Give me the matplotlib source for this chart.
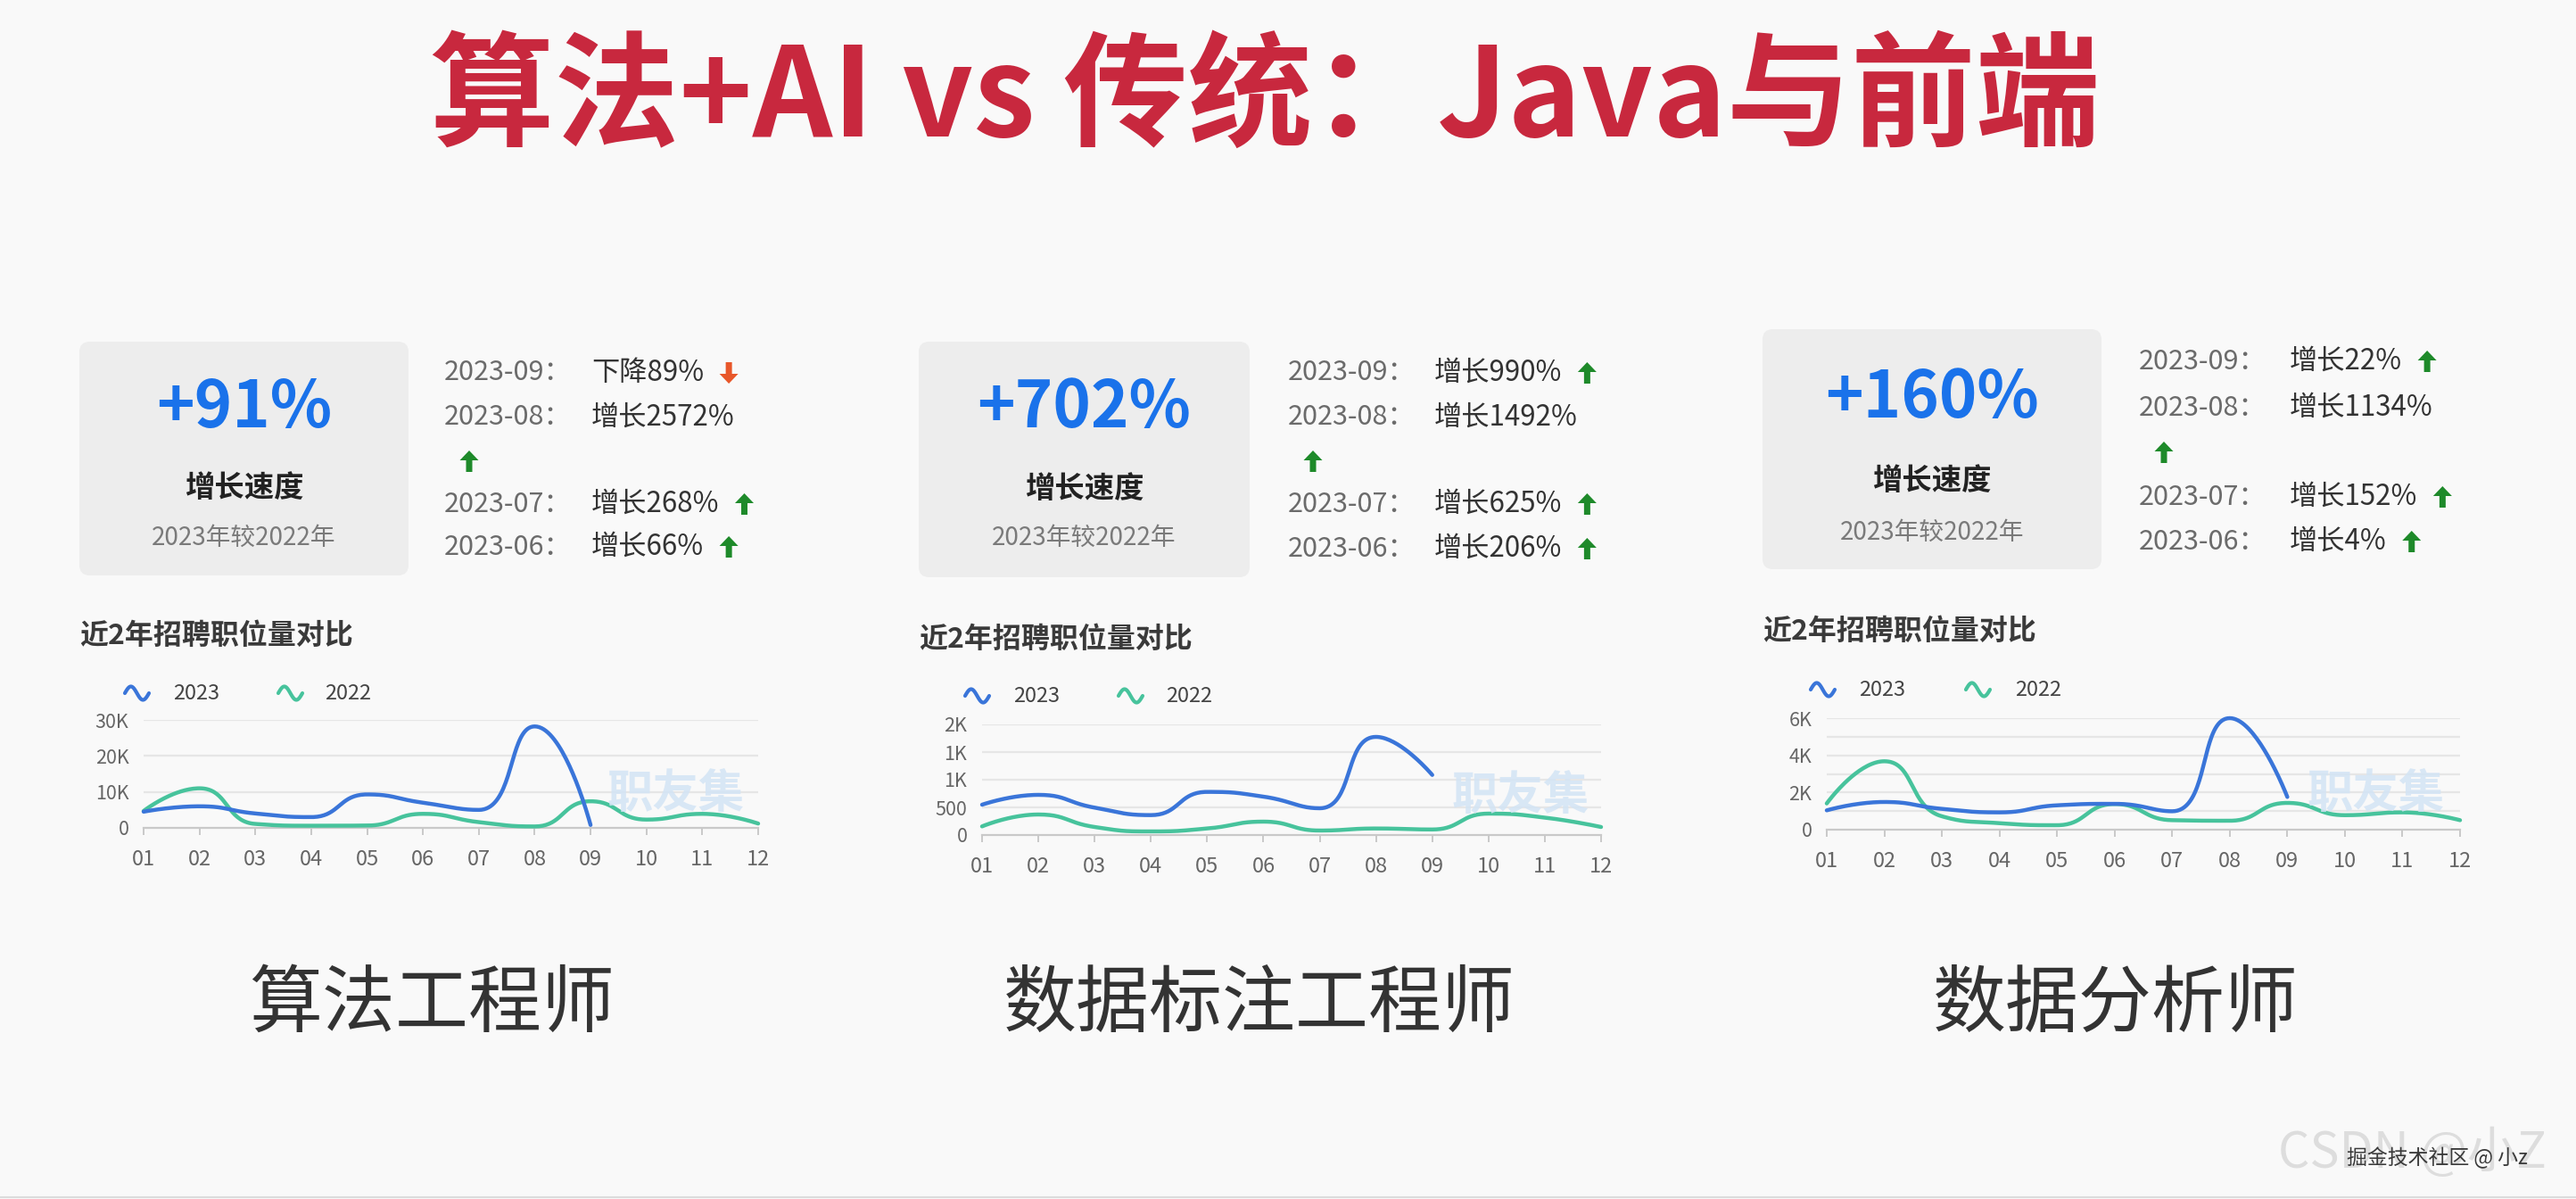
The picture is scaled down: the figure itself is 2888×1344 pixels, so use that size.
import numpy as np
import matplotlib
matplotlib.use("Agg")
import matplotlib.pyplot as plt
from matplotlib.patches import FancyBboxPatch, Polygon
from matplotlib.lines import Line2D

plt.rcParams["font.family"] = ["Noto Sans CJK SC", "DejaVu Sans"]

# ---------------- data ----------------
title = "算法+AI vs 传统：Java与前端"
months = ["01", "02", "03", "04", "05", "06", "07", "08", "09", "10", "11", "12"]
series_names = ["2023", "2022"]

roles = ["算法工程师", "数据标注工程师", "数据分析师"]
growth_rates = ["+91%", "+702%", "+160%"]
growth_label = "增长速度"
growth_basis = "2023年较2022年"
chart_title = "近2年招聘职位量对比"

change_months = ["2023-09", "2023-08", "2023-07", "2023-06"]
alg_change_dirs = ["下降", "增长", "增长", "增长"]
alg_change_pcts = [89, 2572, 268, 66]
ann_change_dirs = ["增长", "增长", "增长", "增长"]
ann_change_pcts = [990, 1492, 625, 206]
ana_change_dirs = ["增长", "增长", "增长", "增长"]
ana_change_pcts = [22, 1134, 152, 4]

alg_2023 = [4500, 6000, 4000, 3000, 9300, 7000, 5000, 28200, 800]
alg_2022 = [4700, 11000, 1100, 600, 650, 3900, 1600, 400, 7400, 2300, 3900, 1200]
ann_2023 = [548, 726, 495, 360, 780, 694, 484, 1774, 1086]
ann_2022 = [156, 371, 145, 65, 118, 242, 81, 118, 100, 387, 315, 145]
ana_2023 = [1040, 1490, 1120, 930, 1310, 1390, 990, 6000, 1760]
ana_2022 = [1410, 3680, 720, 350, 240, 1380, 510, 480, 1440, 780, 930, 510]

alg_yticks = [0, 10000, 20000, 30000]
alg_ylabels = ["0", "10K", "20K", "30K"]
ann_yticks = [0, 500, 1000, 1500, 2000]
ann_ylabels = ["0", "500", "1K", "1K", "2K"]
ana_yticks = [0, 2000, 4000, 6000]
ana_ylabels = ["0", "2K", "4K", "6K"]
ana_ygrid = [0, 1000, 2000, 3000, 4000, 5000, 6000]

watermark_chart = "职友集"
watermark_big = "CSDN @小Z"
watermark_small = "掘金技术社区 @ 小z"

# ---------------- styling ----------------
W, H, DPI = 2888, 1344, 100
BG = "#f9f9f9"
BOX = "#ededed"
RED = "#c8283e"
BLUE_BIG = "#1a72ea"
C2023 = "#3a75d9"
C2022 = "#47c39c"
UP = "#1e8a2a"
DOWN = "#e8572a"


def fx(x):
    return x / W


def fy(y):
    return 1 - y / H


panels = [
    dict(role=roles[0], rate=growth_rates[0], dirs=alg_change_dirs, pcts=alg_change_pcts,
         s23=alg_2023, s22=alg_2022, yt=alg_yticks, yl=alg_ylabels, grid=alg_yticks,
         box=(89, 383, 458, 645), date_x=498, val_x=663, rows=[418, 468, 517, 565, 613],
         big_y=458, lbl_y=548, cmp_y=603, sub=(89, 713), leg_y=777,
         leg=(140, 194, 312, 364), ax=(161, 850, 807, 928), wm=(758, 889), role_x=484),
    dict(role=roles[1], rate=growth_rates[1], dirs=ann_change_dirs, pcts=ann_change_pcts,
         s23=ann_2023, s22=ann_2022, yt=ann_yticks, yl=ann_ylabels, grid=ann_yticks,
         box=(1030, 383, 1401, 647), date_x=1444, val_x=1608, rows=[418, 468, 517, 565, 615],
         big_y=458, lbl_y=549, cmp_y=603, sub=(1030, 717), leg_y=780,
         leg=(1082, 1136, 1254, 1307), ax=(1101, 1795, 812, 936), wm=(1705, 891), role_x=1412),
    dict(role=roles[2], rate=growth_rates[2], dirs=ana_change_dirs, pcts=ana_change_pcts,
         s23=ana_2023, s22=ana_2022, yt=ana_yticks, yl=ana_ylabels, grid=ana_ygrid,
         box=(1976, 369, 2356, 638), date_x=2398, val_x=2567, rows=[405, 457, 507, 557, 607],
         big_y=447, lbl_y=540, cmp_y=597, sub=(1976, 708), leg_y=773,
         leg=(2030, 2084, 2204, 2259), ax=(2048, 2758, 805, 930), wm=(2664, 889), role_x=2372),
]


def smooth_curve(px, py, smooth=0.5, nseg=40):
    """Bezier smoothing with control points clamped between neighbours."""
    n = len(px)
    out_x, out_y = [px[0]], [py[0]]
    cp0x, cp0y = px[0], py[0]
    for k in range(1, n):
        x, y = px[k], py[k]
        prx, pry = px[k - 1], py[k - 1]
        if k + 1 >= n:
            cp1x, cp1y = x, y
            ncx, ncy = x, y
        else:
            nx_, ny_ = px[k + 1], py[k + 1]
            vx, vy = nx_ - prx, ny_ - pry
            len_prev = np.hypot(x - prx, y - pry)
            len_next = np.hypot(nx_ - x, ny_ - y)
            ratio = len_next / (len_next + len_prev)
            ncx = x + vx * smooth * ratio
            ncy = y + vy * smooth * ratio
            ncx = min(ncx, max(nx_, x)); ncy = min(ncy, max(ny_, y))
            ncx = max(ncx, min(nx_, x)); ncy = max(ncy, min(ny_, y))
            vx, vy = ncx - x, ncy - y
            cp1x = x - vx * len_prev / len_next
            cp1y = y - vy * len_prev / len_next
            cp1x = min(cp1x, max(prx, x)); cp1y = min(cp1y, max(pry, y))
            cp1x = max(cp1x, min(prx, x)); cp1y = max(cp1y, min(pry, y))
            vx, vy = x - cp1x, y - cp1y
            ncx = x + vx * len_next / len_prev
            ncy = y + vy * len_next / len_prev
        t = np.linspace(0, 1, nseg)[1:]
        bx = ((1 - t) ** 3 * prx + 3 * (1 - t) ** 2 * t * cp0x
              + 3 * (1 - t) * t ** 2 * cp1x + t ** 3 * x)
        by = ((1 - t) ** 3 * pry + 3 * (1 - t) ** 2 * t * cp0y
              + 3 * (1 - t) * t ** 2 * cp1y + t ** 3 * y)
        out_x.extend(bx); out_y.extend(by)
        cp0x, cp0y = ncx, ncy
    return np.array(out_x), np.array(out_y)


def draw_arrow(fig, cx, cy, up, color):
    hw, hh, sw, total = 10.5, 11, 3.5, 24
    top, bot = cy - total / 2, cy + total / 2
    if up:
        pts = [(cx, top), (cx + hw, top + hh), (cx + sw, top + hh), (cx + sw, bot),
               (cx - sw, bot), (cx - sw, top + hh), (cx - hw, top + hh)]
    else:
        pts = [(cx, bot), (cx + hw, bot - hh), (cx + sw, bot - hh), (cx + sw, top),
               (cx - sw, top), (cx - sw, bot - hh), (cx - hw, bot - hh)]
    fig.add_artist(Polygon([(fx(a), fy(b)) for a, b in pts], closed=True,
                           transform=fig.transFigure, facecolor=color, edgecolor="none"))


def draw_squiggle(fig, x0, yc, color):
    t = np.linspace(0.0, 1.0, 60)
    xs = x0 + 27 * t
    ys = yc - 7.5 * np.sin(2 * np.pi * t)
    fig.add_artist(Line2D(fx(xs), fy(ys), transform=fig.transFigure, color=color,
                          lw=3.0, solid_capstyle="round"))


fig = plt.figure(figsize=(W / DPI, H / DPI), dpi=DPI, facecolor=BG)
renderer = fig.canvas.get_renderer()

fig.text(fx(1418), fy(112), title, ha="center", va="center", fontsize=100.5,
         fontweight="heavy", color=RED)

for p in panels:
    bx0, by0, bx1, by1 = p["box"]
    fig.add_artist(FancyBboxPatch((fx(bx0), fy(by1)), fx(bx1 - bx0), (by1 - by0) / H,
                                  boxstyle="round,pad=0,rounding_size=0.004",
                                  transform=fig.transFigure, facecolor=BOX,
                                  edgecolor="none", mutation_aspect=W / H))
    bcx = (bx0 + bx1) / 2
    fig.text(fx(bcx), fy(p["big_y"]), p["rate"], ha="center", va="center",
             fontsize=52, fontweight="bold", color=BLUE_BIG)
    fig.text(fx(bcx), fy(p["lbl_y"]), growth_label, ha="center", va="center",
             fontsize=24, fontweight="bold", color="#222222")
    fig.text(fx(bcx), fy(p["cmp_y"]), growth_basis, ha="center", va="center",
             fontsize=20, color="#7a7a7a")

    # monthly change list; the long second entry pushes its arrow to a line of its own
    rows = p["rows"]
    row_for_entry = [rows[0], rows[1], rows[3], rows[4]]
    for i, (m, d, v) in enumerate(zip(change_months, p["dirs"], p["pcts"])):
        yy = row_for_entry[i]
        fig.text(fx(p["date_x"]), fy(yy), m + "：", ha="left", va="center",
                 fontsize=22, color="#6b6b6b")
        tv = fig.text(fx(p["val_x"]), fy(yy), f"{d}{v}%", ha="left", va="center",
                      fontsize=22.5, color="#333333")
        up = d == "增长"
        col = UP if up else DOWN
        if i == 1:
            draw_arrow(fig, p["date_x"] + 28, rows[2], up, col)
        else:
            ext = tv.get_window_extent(renderer)
            draw_arrow(fig, ext.x1 + 28, yy, up, col)

    fig.text(fx(p["sub"][0]), fy(p["sub"][1]), chart_title, ha="left", va="center",
             fontsize=23, fontweight="bold", color="#3a3a3a")

    lx1, lt1, lx2, lt2 = p["leg"]
    draw_squiggle(fig, lx1, p["leg_y"], C2023)
    fig.text(fx(lt1), fy(p["leg_y"]), series_names[0], ha="left", va="center",
             fontsize=17, color="#444444")
    draw_squiggle(fig, lx2, p["leg_y"], C2022)
    fig.text(fx(lt2), fy(p["leg_y"]), series_names[1], ha="left", va="center",
             fontsize=17, color="#444444")

    # faint site mark behind the curves
    fig.text(fx(p["wm"][0]), fy(p["wm"][1]), watermark_chart, ha="center", va="center",
             fontsize=37, fontweight="bold", color="#d3e4f5", alpha=0.85, zorder=0)

    # line chart
    al, ar, at, ab = p["ax"]
    ax = fig.add_axes([fx(al), fy(ab), (ar - al) / W, (ab - at) / H])
    ax.set_facecolor("none")
    ax.set_xlim(0, len(months) - 1)
    ax.set_ylim(0, p["yt"][-1])
    for s in ["top", "right", "left"]:
        ax.spines[s].set_visible(False)
    ax.spines["bottom"].set_color("#c9c9c9")
    ax.spines["bottom"].set_linewidth(1.6)
    ax.set_xticks(range(len(months)))
    ax.set_xticklabels(months)
    ax.set_yticks(p["yt"])
    ax.set_yticklabels(p["yl"])
    ax.set_yticks(p["grid"], minor=True)
    ax.tick_params(axis="x", length=6, width=1.4, color="#c9c9c9", pad=11,
                   labelsize=17, labelcolor="#666666")
    ax.tick_params(axis="y", which="both", length=0, pad=12, labelsize=15.5,
                   labelcolor="#666666")
    for g in p["grid"][1:]:
        ax.axhline(g, color="#e6e6e6", lw=1.6, zorder=0)

    for vals, col in [(p["s22"], C2022), (p["s23"], C2023)]:
        xs = np.arange(len(vals))
        disp = ax.transData.transform(np.column_stack([xs, vals]))
        sx, sy = smooth_curve(disp[:, 0], disp[:, 1])
        data = ax.transData.inverted().transform(np.column_stack([sx, sy]))
        ax.plot(data[:, 0], data[:, 1], color=col, lw=3.2, clip_on=False,
                solid_capstyle="round", zorder=3)

    fig.text(fx(p["role_x"]), fy(1126), p["role"], ha="center", va="center",
             fontsize=59, color="#333333")

# page marks in the lower right corner
fig.text(fx(2704), fy(1293), watermark_big, ha="center", va="center", fontsize=40,
         color="#dddddd")
fig.text(fx(2732), fy(1298), watermark_small, ha="center", va="center", fontsize=16.5,
         color="#3a3a3a")
fig.add_artist(Line2D([0, 1], [fy(1342), fy(1342)], transform=fig.transFigure,
                      color="#dcdcdc", lw=1.5))

fig.savefig("out.png", dpi=DPI, facecolor=BG)
